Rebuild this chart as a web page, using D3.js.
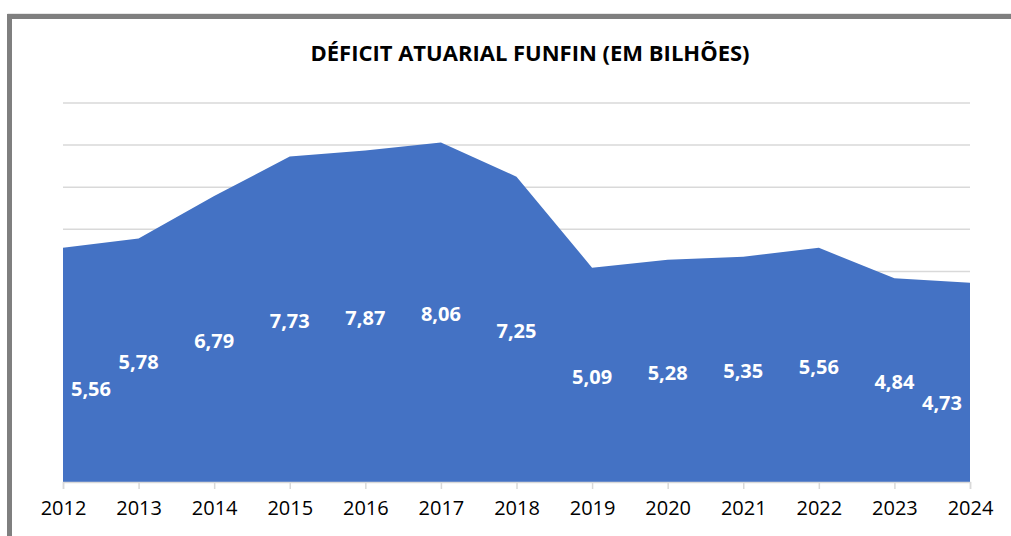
<!DOCTYPE html>
<html><head><meta charset="utf-8">
<script src="https://cdn.jsdelivr.net/npm/d3@7"></script>
<style>html,body{margin:0;padding:0;background:#fff;overflow:hidden}</style>
</head><body>
<svg id="c" width="1011" height="536"></svg>
<script>
const years = ["2012","2013","2014","2015","2016","2017","2018","2019","2020","2021","2022","2023","2024"];
const values = [5.56,5.78,6.79,7.73,7.87,8.06,7.25,5.09,5.28,5.35,5.56,4.84,4.73];
const labels = ["5,56","5,78","6,79","7,73","7,87","8,06","7,25","5,09","5,28","5,35","5,56","4,84","4,73"];
const title = "DÉFICIT ATUARIAL FUNFIN (EM BILHÕES)";
const gridValues = [5,6,7,8,9];

const svg = d3.select("#c");
const x = d3.scalePoint().domain(years).range([63,970]);
const y = d3.scaleLinear().domain([0,9]).range([482,103]);
const font = "'Open Sans', 'Noto Sans', sans-serif";

// frame
svg.append("rect").attr("x",8).attr("y",14).attr("width",1100).attr("height",600)
  .attr("fill","none").attr("stroke","#cfcfcf").attr("stroke-width",1);
svg.append("rect").attr("x",9.5).attr("y",16.5).attr("width",1100).attr("height",600)
  .attr("fill","none").attr("stroke","#7f7f7f").attr("stroke-width",5);

// gridlines
svg.append("g").selectAll("line").data(gridValues).join("line")
  .attr("x1",63).attr("x2",970).attr("y1",d=>y(d)).attr("y2",d=>y(d))
  .attr("stroke","#d9d9d9").attr("stroke-width",1.5);

// area
const area = d3.area().x((d,i)=>x(years[i])).y0(y(0)).y1(d=>y(d));
svg.append("path").datum(values).attr("d",area).attr("fill","#4472C4");

// x axis
const axis = d3.axisBottom(x).tickSize(7).tickPadding(12);
const gx = svg.append("g").attr("transform",`translate(0,${y(0)})`).call(axis);
gx.select(".domain").attr("stroke","#d9d9d9").attr("stroke-width",1.5);
gx.selectAll(".tick line").attr("stroke","#d9d9d9").attr("stroke-width",1.5);
gx.selectAll(".tick text").attr("font-family",font).attr("font-size",20).attr("fill","#000");

// data labels
const n = values.length;
svg.append("g").selectAll("text").data(values).join("text")
  .attr("x",(d,i)=> x(years[i]) + (i===0 ? 28 : i===n-1 ? -28 : 0))
  .attr("y",(d,i)=> y((i===0||i===n-1) ? d*0.405 : d/2) + 9)
  .attr("text-anchor","middle").attr("font-family",font).attr("font-weight","bold")
  .attr("font-size",20).attr("fill","#fff").text((d,i)=>labels[i]);

// title
svg.append("text").attr("x",530).attr("y",61).attr("text-anchor","middle")
  .attr("font-family",font).attr("font-weight","bold").attr("font-size",22)
  .attr("fill","#000").text(title);
</script>
</body></html>
